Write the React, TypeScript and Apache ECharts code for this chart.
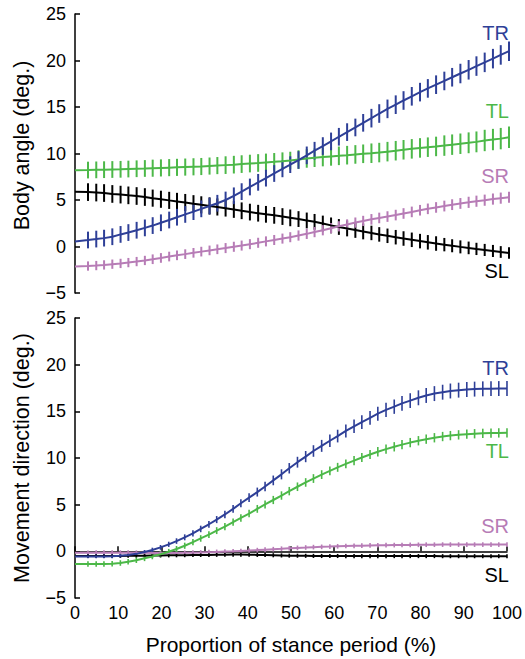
import React, { useEffect, useRef } from "react";
import * as echarts from "echarts";

const STANCE = [
  0, 3, 4.9, 6.7, 8.6, 10.5, 12.3, 14.2, 16.1,
  17.9, 19.8, 21.7, 23.5, 25.4, 27.3, 29.1, 31, 32.8,
  34.7, 36.6, 38.4, 40.3, 42.2, 44, 45.9, 47.8, 49.6,
  51.5, 53.4, 55.2, 57.1, 59, 60.8, 62.7, 64.6, 66.4,
  68.3, 70.1, 72, 73.9, 75.7, 77.6, 79.5, 81.3, 83.2,
  85.1, 86.9, 88.8, 90.7, 92.5, 94.4, 96.3, 98.1, 100,
];

const Y_TICKS = [-5, 0, 5, 10, 15, 20, 25];
const X_TICKS = [0, 10, 20, 30, 40, 50, 60, 70, 80, 90, 100];

// ---- Body angle (top panel) ----
const BODY_TR = [
  0.55, 0.7, 0.8, 0.9, 1.05, 1.3, 1.5, 1.75, 2.0,
  2.25, 2.55, 2.85, 3.15, 3.45, 3.75, 4.05, 4.35, 4.65,
  5.0, 5.45, 5.9, 6.4, 6.9, 7.35, 7.85, 8.35, 8.8,
  9.3, 9.8, 10.3, 10.8, 11.3, 11.8, 12.3, 12.8, 13.3,
  13.8, 14.3, 14.8, 15.25, 15.7, 16.15, 16.6, 17.0, 17.4,
  17.8, 18.2, 18.6, 19.0, 19.4, 19.8, 20.2, 20.6, 21.0,
];
const BODY_TR_ERR = [
  null, 0.9, 0.9, 0.9, 0.9, 0.9, 0.9, 0.9, 0.9,
  0.9, 0.9, 0.9, 0.9, 0.9, 0.9, 0.9, 0.9, 0.9,
  0.9, 0.9, 0.9, 0.9, 0.9, 0.9, 0.9, 0.9, 0.9,
  0.95, 0.95, 0.95, 0.95, 0.95, 0.95, 0.95, 0.95, 0.95,
  1.0, 1.0, 1.0, 1.0, 1.0, 1.0, 1.0, 1.0, 1.0,
  1.0, 1.0, 1.05, 1.05, 1.05, 1.05, 1.05, 1.05, 1.05,
];
const BODY_TL = [
  8.2, 8.22, 8.24, 8.26, 8.28, 8.3, 8.33, 8.36, 8.39,
  8.42, 8.45, 8.48, 8.51, 8.54, 8.57, 8.6, 8.65, 8.7,
  8.75, 8.8, 8.86, 8.92, 8.98, 9.04, 9.1, 9.17, 9.24,
  9.35, 9.47, 9.55, 9.62, 9.69, 9.75, 9.82, 9.9, 9.97,
  10.03, 10.1, 10.2, 10.3, 10.4, 10.5, 10.6, 10.68, 10.76,
  10.85, 10.95, 11.05, 11.15, 11.25, 11.4, 11.5, 11.6, 11.75,
];
const BODY_TL_ERR = [
  null, 0.9, 0.9, 0.9, 0.9, 0.9, 0.9, 0.9, 0.9,
  0.92, 0.92, 0.92, 0.92, 0.92, 0.92, 0.92, 0.92, 0.92,
  0.95, 0.95, 0.95, 0.95, 0.95, 0.95, 0.95, 0.95, 0.95,
  1.0, 1.0, 1.0, 1.0, 1.0, 1.0, 1.0, 1.0, 1.0,
  1.05, 1.05, 1.05, 1.05, 1.05, 1.05, 1.05, 1.05, 1.05,
  1.1, 1.1, 1.1, 1.12, 1.12, 1.15, 1.15, 1.15, 1.15,
];
const BODY_SL = [
  5.9, 5.85, 5.8, 5.75, 5.65, 5.58, 5.5, 5.43, 5.32,
  5.2, 5.08, 4.96, 4.85, 4.73, 4.6, 4.48, 4.36, 4.25,
  4.12, 3.98, 3.84, 3.7, 3.58, 3.46, 3.35, 3.22, 3.08,
  2.95, 2.8, 2.65, 2.47, 2.27, 2.1, 1.94, 1.78, 1.62,
  1.46, 1.3, 1.15, 1.0, 0.86, 0.72, 0.58, 0.45, 0.32,
  0.2, 0.08, -0.04, -0.15, -0.26, -0.37, -0.48, -0.59, -0.7,
];
const BODY_SL_ERR = [
  null, 0.95, 0.95, 0.95, 0.95, 0.95, 0.95, 0.95, 0.95,
  0.92, 0.92, 0.92, 0.92, 0.92, 0.92, 0.92, 0.92, 0.92,
  0.9, 0.9, 0.9, 0.9, 0.9, 0.9, 0.9, 0.9, 0.9,
  0.85, 0.85, 0.85, 0.85, 0.85, 0.85, 0.85, 0.85, 0.85,
  0.78, 0.78, 0.78, 0.78, 0.78, 0.78, 0.78, 0.78, 0.78,
  0.72, 0.7, 0.7, 0.68, 0.66, 0.65, 0.65, 0.63, 0.62,
];
const BODY_SR = [
  -2.15, -2.1, -2.05, -1.98, -1.9, -1.82, -1.73, -1.62, -1.5,
  -1.37, -1.23, -1.08, -0.95, -0.82, -0.68, -0.55, -0.42, -0.3,
  -0.17, -0.03, 0.1, 0.25, 0.4, 0.55, 0.7, 0.85, 1.0,
  1.18, 1.36, 1.55, 1.75, 1.97, 2.17, 2.37, 2.57, 2.75,
  2.92, 3.07, 3.22, 3.38, 3.55, 3.72, 3.9, 4.05, 4.2,
  4.35, 4.5, 4.63, 4.75, 4.87, 4.98, 5.1, 5.2, 5.3,
];
const BODY_SR_ERR = [
  null, 0.5, 0.5, 0.5, 0.5, 0.5, 0.5, 0.5, 0.5,
  0.52, 0.52, 0.52, 0.52, 0.52, 0.52, 0.52, 0.52, 0.52,
  0.54, 0.54, 0.54, 0.54, 0.54, 0.54, 0.54, 0.54, 0.54,
  0.55, 0.55, 0.55, 0.55, 0.55, 0.55, 0.55, 0.55, 0.55,
  0.57, 0.57, 0.57, 0.57, 0.57, 0.57, 0.57, 0.57, 0.57,
  0.58, 0.58, 0.58, 0.6, 0.6, 0.6, 0.6, 0.6, 0.6,
];

// ---- Movement direction (bottom panel) ----
const MOVE_TR = [
  -0.55, -0.55, -0.55, -0.55, -0.53, -0.48, -0.4, -0.27, -0.08,
  0.15, 0.42, 0.75, 1.1, 1.5, 1.92, 2.4, 2.9, 3.4,
  3.95, 4.55, 5.15, 5.75, 6.35, 6.95, 7.6, 8.25, 8.9,
  9.55, 10.15, 10.75, 11.3, 11.85, 12.35, 12.9, 13.4, 13.85,
  14.3, 14.75, 15.15, 15.5, 15.85, 16.15, 16.45, 16.7, 16.9,
  17.05, 17.18, 17.27, 17.33, 17.38, 17.41, 17.43, 17.44, 17.45,
];
const MOVE_TR_ERR = [
  null, 0.2, 0.2, 0.2, 0.2, 0.2, 0.2, 0.22, 0.22,
  0.24, 0.26, 0.28, 0.3, 0.32, 0.33, 0.35, 0.36, 0.38,
  0.4, 0.42, 0.44, 0.46, 0.48, 0.5, 0.52, 0.54, 0.56,
  0.58, 0.6, 0.62, 0.64, 0.66, 0.68, 0.7, 0.72, 0.73,
  0.74, 0.75, 0.76, 0.77, 0.78, 0.79, 0.8, 0.8, 0.8,
  0.8, 0.8, 0.8, 0.8, 0.8, 0.8, 0.8, 0.8, 0.8,
];
const MOVE_TL = [
  -1.35, -1.35, -1.36, -1.36, -1.33, -1.25, -1.12, -0.95, -0.75,
  -0.55, -0.32, -0.05, 0.25, 0.6, 0.98, 1.38, 1.8, 2.22,
  2.65, 3.12, 3.58, 4.05, 4.55, 5.02, 5.5, 5.98, 6.45,
  6.92, 7.38, 7.8, 8.22, 8.62, 9.0, 9.37, 9.72, 10.05,
  10.37, 10.67, 10.95, 11.2, 11.43, 11.65, 11.85, 12.02, 12.17,
  12.3, 12.4, 12.48, 12.55, 12.6, 12.64, 12.67, 12.69, 12.7,
];
const MOVE_TL_ERR = [
  null, 0.3, 0.3, 0.3, 0.3, 0.3, 0.3, 0.3, 0.3,
  0.3, 0.3, 0.31, 0.32, 0.33, 0.34, 0.35, 0.36, 0.37,
  0.38, 0.39, 0.4, 0.41, 0.42, 0.43, 0.44, 0.45, 0.45,
  0.46, 0.46, 0.47, 0.47, 0.48, 0.48, 0.48, 0.49, 0.49,
  0.49, 0.5, 0.5, 0.5, 0.5, 0.5, 0.5, 0.5, 0.5,
  0.5, 0.5, 0.5, 0.5, 0.5, 0.5, 0.5, 0.5, 0.5,
];
const MOVE_SR = [
  -0.15, -0.15, -0.14, -0.14, -0.14, -0.14, -0.14, -0.15, -0.16,
  -0.17, -0.18, -0.18, -0.17, -0.16, -0.14, -0.12, -0.09, -0.06,
  -0.03, 0.0, 0.04, 0.08, 0.13, 0.18, 0.23, 0.28, 0.33,
  0.37, 0.41, 0.45, 0.48, 0.51, 0.54, 0.57, 0.59, 0.61,
  0.63, 0.65, 0.66, 0.67, 0.68, 0.69, 0.7, 0.71, 0.71,
  0.72, 0.72, 0.72, 0.72, 0.72, 0.72, 0.72, 0.72, 0.72,
];
const MOVE_SR_ERR = [
  null, 0.25, 0.25, 0.25, 0.25, 0.25, 0.25, 0.25, 0.25,
  0.25, 0.25, 0.25, 0.25, 0.25, 0.25, 0.25, 0.25, 0.25,
  0.25, 0.25, 0.25, 0.25, 0.25, 0.25, 0.25, 0.25, 0.25,
  0.25, 0.25, 0.25, 0.25, 0.25, 0.25, 0.25, 0.25, 0.25,
  0.25, 0.25, 0.25, 0.25, 0.25, 0.25, 0.25, 0.25, 0.25,
  0.25, 0.25, 0.25, 0.25, 0.25, 0.25, 0.25, 0.25, 0.25,
];
const MOVE_SL = [
  -0.5, -0.5, -0.5, -0.5, -0.5, -0.49, -0.48, -0.47, -0.46,
  -0.45, -0.44, -0.43, -0.42, -0.41, -0.4, -0.39, -0.38, -0.37,
  -0.36, -0.35, -0.35, -0.36, -0.38, -0.4, -0.42, -0.44, -0.46,
  -0.47, -0.48, -0.49, -0.5, -0.5, -0.5, -0.51, -0.51, -0.51,
  -0.51, -0.51, -0.51, -0.51, -0.51, -0.51, -0.51, -0.51, -0.51,
  -0.52, -0.52, -0.52, -0.52, -0.52, -0.52, -0.52, -0.52, -0.52,
];
const MOVE_SL_ERR = [
  null, 0.22, 0.22, 0.22, 0.22, 0.22, 0.22, 0.22, 0.22,
  0.22, 0.22, 0.22, 0.22, 0.22, 0.22, 0.22, 0.22, 0.22,
  0.22, 0.22, 0.22, 0.22, 0.22, 0.22, 0.22, 0.22, 0.22,
  0.22, 0.22, 0.22, 0.22, 0.22, 0.22, 0.22, 0.22, 0.22,
  0.22, 0.22, 0.22, 0.22, 0.22, 0.22, 0.22, 0.22, 0.22,
  0.22, 0.22, 0.22, 0.22, 0.22, 0.22, 0.22, 0.22, 0.22,
];

const COLOR = {
  TR: "#2e3f97",
  TL: "#4cb848",
  SR: "#b77cb6",
  SL: "#000000",
};

const FONT = '"Liberation Sans", Arial, Helvetica, sans-serif';

function lineData(values: number[]) {
  return STANCE.map((x, i) => [x, values[i]]);
}
function barData(values: number[], errs: (number | null)[]) {
  const out: number[][] = [];
  STANCE.forEach((x, i) => {
    const e = errs[i];
    if (e != null) out.push([x, values[i] - e, values[i] + e]);
  });
  return out;
}

function makeSeries(
  name: string,
  values: number[],
  errs: (number | null)[],
  color: string,
  axis: number,
  lw: number,
  barW: number
) {
  return [
    {
      type: "line",
      name,
      xAxisIndex: axis,
      yAxisIndex: axis,
      data: lineData(values),
      showSymbol: false,
      symbol: "none",
      lineStyle: { color, width: lw },
      itemStyle: { color },
      z: 3,
    },
    {
      type: "custom",
      name: name + "-err",
      xAxisIndex: axis,
      yAxisIndex: axis,
      data: barData(values, errs),
      encode: { x: 0, y: [1, 2] },
      z: 3,
      renderItem: (params: any, api: any) => {
        const x = api.value(0);
        const p1 = api.coord([x, api.value(1)]);
        const p2 = api.coord([x, api.value(2)]);
        return {
          type: "line",
          shape: { x1: p1[0], y1: p1[1], x2: p2[0], y2: p2[1] },
          style: { stroke: color, lineWidth: barW },
        };
      },
    },
  ];
}

const minus = (v: number) => String(v).replace("-", "\u2212");

function yAxis(gridIndex: number, name: string, padding: number[]) {
  return {
    type: "value",
    gridIndex,
    min: -5,
    max: 25,
    interval: 5,
    name,
    nameLocation: "middle",
    nameGap: 42,
    nameTextStyle: { fontSize: 21.5, color: "#000", fontFamily: FONT, padding },
    axisLine: { show: true, lineStyle: { color: "#000", width: 1.5 } },
    axisTick: { show: true, inside: true, length: 5, lineStyle: { color: "#000", width: 1.5 } },
    axisLabel: {
      fontSize: 18,
      color: "#000",
      fontFamily: FONT,
      margin: 9,
      formatter: (v: number) => (Y_TICKS.includes(v) ? minus(v) : ""),
    },
    splitLine: { show: false },
  };
}

const LABELS = [
  { t: "TR", c: COLOR.TR, y: 33 },
  { t: "TL", c: COLOR.TL, y: 111 },
  { t: "SR", c: COLOR.SR, y: 176 },
  { t: "SL", c: COLOR.SL, y: 271 },
  { t: "TR", c: COLOR.TR, y: 368 },
  { t: "TL", c: COLOR.TL, y: 451 },
  { t: "SR", c: COLOR.SR, y: 526 },
  { t: "SL", c: COLOR.SL, y: 575 },
];

export default function App() {
  const ref = useRef<HTMLDivElement>(null);
  useEffect(() => {
    if (!ref.current) return;
    const chart = echarts.init(ref.current, undefined, { renderer: "svg" });
    const option: any = {
      animation: false,
      backgroundColor: "#ffffff",
      grid: [
        { left: 75, top: 14, width: 434, height: 279 },
        { left: 75, top: 318, width: 434, height: 280 },
      ],
      xAxis: [
        {
          type: "value",
          gridIndex: 0,
          min: 0,
          max: 100,
          interval: 10,
          axisLine: { show: false },
          axisTick: { show: false },
          axisLabel: { show: false },
          splitLine: { show: false },
        },
        {
          type: "value",
          gridIndex: 1,
          min: 0,
          max: 100,
          interval: 10,
          name: "Proportion of stance period (%)",
          nameLocation: "middle",
          nameGap: 36,
          nameTextStyle: { fontSize: 21, color: "#000", fontFamily: FONT },
          axisLine: { show: true, lineStyle: { color: "#000", width: 1.5 } },
          axisTick: { show: true, inside: true, length: 5, lineStyle: { color: "#000", width: 1.5 } },
          axisLabel: {
            fontSize: 18,
            color: "#000",
            fontFamily: FONT,
            margin: 6,
            formatter: (v: number) => (X_TICKS.includes(v) ? String(v) : ""),
          },
          splitLine: { show: false },
        },
      ],
      yAxis: [
        yAxis(0, "Body angle (deg.)", [0, 0, 0, 16]),
        yAxis(1, "Movement direction (deg.)", [0, 0, 0, 0]),
      ],
      series: [
        ...makeSeries("SL", BODY_SL, BODY_SL_ERR, COLOR.SL, 0, 2, 2),
        ...makeSeries("SR", BODY_SR, BODY_SR_ERR, COLOR.SR, 0, 2, 2),
        ...makeSeries("TL", BODY_TL, BODY_TL_ERR, COLOR.TL, 0, 2, 2),
        ...makeSeries("TR", BODY_TR, BODY_TR_ERR, COLOR.TR, 0, 2, 2),
        ...makeSeries("SR", MOVE_SR, MOVE_SR_ERR, COLOR.SR, 1, 2, 1.6),
        ...makeSeries("SL", MOVE_SL, MOVE_SL_ERR, COLOR.SL, 1, 2, 1.6),
        ...makeSeries("TL", MOVE_TL, MOVE_TL_ERR, COLOR.TL, 1, 2, 1.6),
        ...makeSeries("TR", MOVE_TR, MOVE_TR_ERR, COLOR.TR, 1, 2, 1.6),
      ],
      graphic: LABELS.map((l) => ({
        type: "text",
        x: 509,
        y: l.y,
        style: {
          text: l.t,
          fill: l.c,
          fontSize: 20,
          fontFamily: FONT,
          align: "right",
          verticalAlign: "middle",
          textAlign: "right",
          textVerticalAlign: "middle",
        },
      })),
    };
    chart.setOption(option);
    return () => chart.dispose();
  }, []);
  return (
    <div
      ref={ref}
      style={{ position: "fixed", left: 0, top: 0, width: 525, height: 659, background: "#fff" }}
    />
  );
}
